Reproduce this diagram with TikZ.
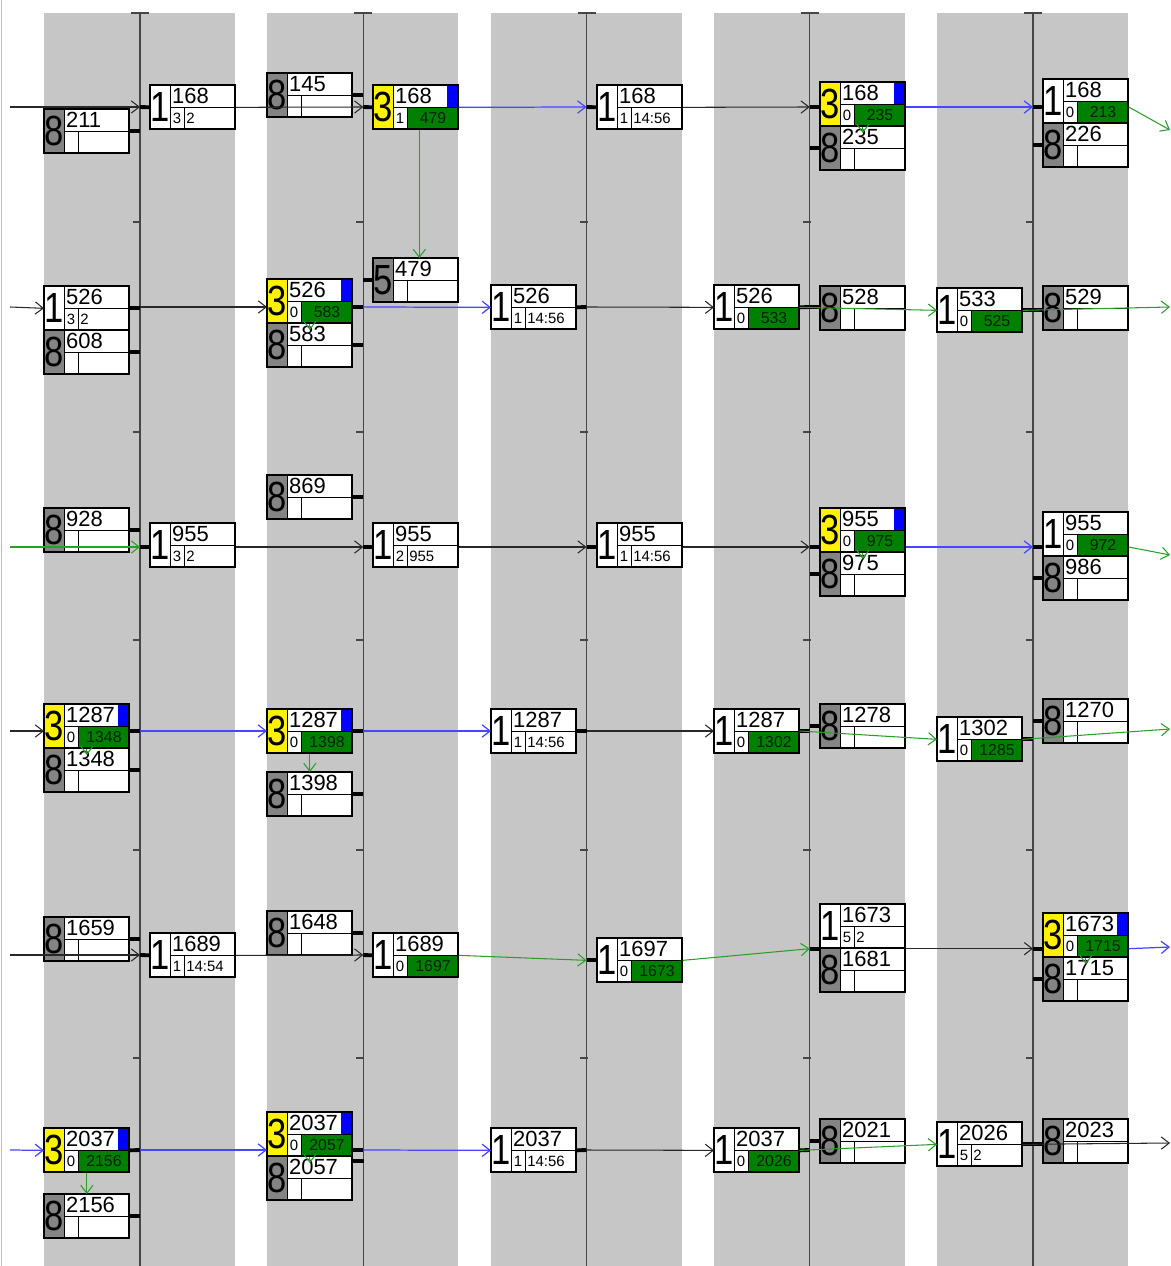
\documentclass[tikz,border=0pt]{standalone}
\usepackage{fontspec}
\setmainfont{Liberation Sans}
\usepackage{graphicx}
\usetikzlibrary{arrows.meta}

\definecolor{bandgray}{RGB}{198,198,198}
\definecolor{cellgray}{RGB}{132,132,132}
\definecolor{boxgreen}{RGB}{0,128,0}
\definecolor{boxblue}{RGB}{0,0,255}
\definecolor{linegreen}{RGB}{40,160,40}
\definecolor{lineblue}{RGB}{70,70,255}
\definecolor{linedark}{RGB}{40,40,40}
\definecolor{railgray}{RGB}{70,70,70}

\tikzset{
  frame/.style={fill=white, minimum width=1.7cm, minimum height=0.88cm, inner sep=0pt, anchor=north west},
  rim/.style={line width=0.7pt},
  inner/.style={line width=0.45pt},
  digit/.style={inner sep=0pt, font=\fontsize{24}{24}\selectfont},
  numtext/.style={inner sep=1pt, anchor=west, font=\fontsize{12.5}{12.5}\selectfont},
  smalltext/.style={inner sep=0pt, font=\fontsize{8.5}{8.5}\selectfont},
  gtext/.style={inner sep=0pt, font=\fontsize{9}{9}\selectfont, text=black!75!boxgreen},
  trk/.style={->, draw=linedark, line width=0.6pt},
  blu/.style={->, draw=lineblue, line width=0.7pt},
  grn/.style={->, draw=linegreen, line width=0.6pt},
  stub/.style={line width=2.2pt},
  rail/.style={draw=railgray, line width=0.8pt},
}

\newcommand\bigd[1]{\scalebox{0.82}[1]{#1}}

% white box: 1 | number / small | rest
\newcommand\onebox[6]{%
  \begin{scope}[shift={(#2,#3)}]
    \node[frame] (#1) at (0,0) {};
    \draw[inner] (20,0) -- (20,44) (20,22) -- (85,22) (34,22) -- (34,44);
    \node[digit] (#1d) at (10,22) {\bigd{1}};
    \node[numtext] (#1n) at (20,11) {#4};
    \node[smalltext] (#1s) at (27,33) {#5};
    \node[smalltext,anchor=west] (#1r) at (36,33) {#6};
    \draw[rim] (0,0) rectangle (85,44);
  \end{scope}}

% white box with green field
\newcommand\greenbox[6]{%
  \begin{scope}[shift={(#2,#3)}]
    \node[frame] (#1) at (0,0) {};
    \fill[boxgreen] (34,22) rectangle (85,44);
    \draw[inner] (20,0) -- (20,44) (20,22) -- (85,22) (34,22) -- (34,44);
    \node[digit] (#1d) at (10,22) {\bigd{1}};
    \node[numtext] (#1n) at (20,11) {#4};
    \node[smalltext] (#1s) at (27,33) {#5};
    \node[gtext] (#1g) at (60,33) {#6};
    \draw[rim] (0,0) rectangle (85,44);
  \end{scope}}

% yellow 3 box
\newcommand\threebox[6]{%
  \begin{scope}[shift={(#2,#3)}]
    \node[frame] (#1) at (0,0) {};
    \fill[yellow] (0,0) rectangle (20,44);
    \fill[boxblue] (74,0) rectangle (85,22);
    \fill[boxgreen] (34,22) rectangle (85,44);
    \draw[inner] (20,0) -- (20,44) (20,22) -- (85,22) (34,22) -- (34,44);
    \node[digit] (#1d) at (10,22) {\bigd{3}};
    \node[numtext] (#1n) at (20,11) {#4};
    \node[smalltext] (#1s) at (27,33) {#5};
    \node[gtext] (#1g) at (60,33) {#6};
    \draw[rim] (0,0) rectangle (85,44);
  \end{scope}}

% gray 8 (or 5) box
\newcommand\graybox[5][8]{%
  \begin{scope}[shift={(#3,#4)}]
    \node[frame] (#2) at (0,0) {};
    \fill[cellgray] (0,0) rectangle (20,44);
    \draw[inner] (20,0) -- (20,44) (20,22) -- (85,22) (34,22) -- (34,44);
    \node[digit] (#2d) at (10,22) {\bigd{#1}};
    \node[numtext] (#2n) at (20,11) {#5};
    \draw[rim] (0,0) rectangle (85,44);
  \end{scope}}

\begin{document}
\begin{tikzpicture}[x=0.02cm, y=-0.02cm, >={Straight Barb[length=4.5pt,width=7pt]}]
 \useasboundingbox (0,0) rectangle (1170,1266);
 \fill[white] (0,0) rectangle (1170,1266);
 \draw[gray!50, line width=0.4pt] (1,0) -- (1,1266);

 % bands and rails
 \foreach \bx in {44,267.25,490.5,713.75,937}
   \fill[bandgray] (\bx,13) rectangle ++(191,1253);
 \foreach \lx [count=\k] in {140,363.25,586.5,809.75,1033} {
   \coordinate (l\k) at (\lx,13);
   \draw[rail] (\lx,13) -- (\lx,1266);
   \draw[rail] (\lx-9,13) -- (\lx+9,13);
   \foreach \ty in {222,432,640,850,1058}
     \draw[rail] (\lx-7,\ty) -- (\lx+1,\ty);
 }
 \foreach \ry [count=\k] in {107,307,547,731,955,1150} {
   \coordinate (r\k) at (0,\ry);
   \coordinate (in\k) at (10,\ry);
 }
 \coordinate (o1) at (1170,130);
 \coordinate (o2) at (1170,307);
 \coordinate (o3) at (1170,555);
 \coordinate (o4) at (1170,729);
 \coordinate (o5) at (1170,947);
 \coordinate (o6) at (1170,1143);

 % row 1
 \graybox{e211}{44}{109}{211}
 \onebox{a168}{150}{85}{168}{3}{2}
 \graybox{e145}{267}{73}{145}
 \threebox{c168}{373}{85}{168}{1}{479}
 \onebox{a168b}{597}{85}{168}{1}{14:56}
 \threebox{c168b}{820}{82}{168}{0}{235}
 \graybox{e235}{820}{126}{235}
 \greenbox{g168}{1043}{79}{168}{0}{213}
 \graybox{e226}{1043}{123}{226}
 % row 2
 \onebox{b526}{44}{286}{526}{3}{2}
 \graybox{e608}{44}{330}{608}
 \threebox{c526}{267}{279}{526}{0}{583}
 \graybox{e583}{267}{323}{583}
 \graybox[5]{f479}{373}{258}{479}
 \onebox{a526}{491}{285}{526}{1}{14:56}
 \greenbox{g526}{714}{285}{526}{0}{533}
 \graybox{e528}{820}{286}{528}
 \greenbox{g533}{937}{288}{533}{0}{525}
 \graybox{e529}{1043}{286}{529}
 % row 3
 \graybox{e928}{44}{508}{928}
 \onebox{a955}{150}{523}{955}{3}{2}
 \graybox{e869}{267}{475}{869}
 \onebox{a955b}{373}{523}{955}{2}{955}
 \onebox{a955c}{597}{523}{955}{1}{14:56}
 \threebox{c955}{820}{508}{955}{0}{975}
 \graybox{e975}{820}{552}{975}
 \greenbox{g955}{1043}{512}{955}{0}{972}
 \graybox{e986}{1043}{556}{986}
 % row 4
 \threebox{c1287}{44}{704}{1287}{0}{1348}
 \graybox{e1348}{44}{748}{1348}
 \threebox{c1287b}{267}{709}{1287}{0}{1398}
 \graybox{e1398}{267}{772}{1398}
 \onebox{a1287}{491}{709}{1287}{1}{14:56}
 \greenbox{g1287}{714}{709}{1287}{0}{1302}
 \graybox{e1278}{820}{704}{1278}
 \greenbox{g1302}{937}{717}{1302}{0}{1285}
 \graybox{e1270}{1043}{699}{1270}
 % row 5
 \graybox{e1659}{44}{917}{1659}
 \onebox{a1689}{150}{933}{1689}{1}{14:54}
 \graybox{e1648}{267}{911}{1648}
 \greenbox{g1689}{373}{933}{1689}{0}{1697}
 \greenbox{g1697}{597}{938}{1697}{0}{1673}
 \onebox{a1673}{820}{904}{1673}{5}{2}
 \graybox{e1681}{820}{948}{1681}
 \threebox{c1673}{1043}{913}{1673}{0}{1715}
 \graybox{e1715}{1043}{957}{1715}
 % row 6
 \threebox{c2037}{44}{1128}{2037}{0}{2156}
 \graybox{e2156}{44}{1194}{2156}
 \threebox{c2037b}{267}{1112}{2037}{0}{2057}
 \graybox{e2057}{267}{1156}{2057}
 \onebox{a2037}{491}{1128}{2037}{1}{14:56}
 \greenbox{g2037}{714}{1128}{2037}{0}{2026}
 \graybox{e2021}{820}{1119}{2021}
 \onebox{a2026}{937}{1122}{2026}{5}{2}
 \graybox{e2023}{1043}{1119}{2023}

 % connectors row 1
 \draw[trk] (in1) -- (l1 |- r1);
 \draw[stub] (l1 |- r1) -- (a168.west);
 \draw[stub] (e211.east) -- (l1 |- e211.east);
 \draw[trk] (a168.east) -- (l2 |- r1);
 \draw[stub] (e145.east) -- (l2 |- e145.east);
 \draw[stub] (l2 |- r1) -- (c168.west);
 \draw[blu] (c168.east) -- (l3 |- r1);
 \draw[stub] (l3 |- r1) -- (a168b.west);
 \draw[grn] ([xshift=0.07cm]c168.south) -- ([xshift=0.07cm]f479.north);
 \draw[trk] (a168b.east) -- (l4 |- r1);
 \draw[stub] (l4 |- r1) -- (c168b.west |- r1);
 \draw[stub] (l4 |- e235.west) -- (e235.west);
 \draw[grn] (c168b.south) -- ([yshift=-0.14cm]e235.north);
 \draw[blu] (c168b.east |- r1) -- (l5 |- r1);
 \draw[stub] (l5 |- r1) -- (g168.west |- r1);
 \draw[stub] (l5 |- e226.west) -- (e226.west);
 \draw[grn] (g168.east |- r1) -- (o1);
 % row 2
 \draw[trk] (in2) -- (b526.west);
 \draw[stub] (b526.east) -- (l1 |- b526.east);
 \draw[stub] (e608.east) -- (l1 |- e608.east);
 \draw[trk] (l1 |- r2) -- (c526.west |- r2);
 \draw[stub] (c526.east |- r2) -- (l2 |- r2);
 \draw[stub] (e583.east) -- (l2 |- e583.east);
 \draw[grn] (c526.south) -- ([yshift=-0.14cm]e583.north);
 \draw[stub] (l2 |- f479.west) -- (f479.west);
 \draw[blu] (l2 |- r2) -- (a526.west);
 \draw[stub] (a526.east) -- (l3 |- r2);
 \draw[trk] (l3 |- r2) -- (g526.west);
 \draw[stub] (g526.east) -- (l4 |- r2);
 \draw[stub] (l4 |- r2) -- (e528.west |- r2);
 \draw[grn] (g526.east) -- (g533.west);
 \draw[stub] (g533.east) -- (l5 |- g533.east);
 \draw[stub] (l5 |- g533.east) -- (e529.west |- g533.east);
 \draw[grn] (g533.east) -- (o2);
 % row 3
 \draw[grn] (in3) -- (l1 |- r3);
 \draw[stub] (l1 |- r3) -- (a955.west |- r3);
 \draw[stub] (e928.east) -- (l1 |- e928.east);
 \draw[trk] (a955.east |- r3) -- (l2 |- r3);
 \draw[stub] (e869.east) -- (l2 |- e869.east);
 \draw[stub] (l2 |- r3) -- (a955b.west |- r3);
 \draw[trk] (a955b.east |- r3) -- (l3 |- r3);
 \draw[stub] (l3 |- r3) -- (a955c.west |- r3);
 \draw[trk] (a955c.east |- r3) -- (l4 |- r3);
 \draw[stub] (l4 |- r3) -- (c955.west |- r3);
 \draw[stub] (l4 |- e975.west) -- (e975.west);
 \draw[grn] (c955.south) -- ([yshift=-0.14cm]e975.north);
 \draw[blu] (c955.east |- r3) -- (l5 |- r3);
 \draw[stub] (l5 |- r3) -- (g955.west |- r3);
 \draw[stub] (l5 |- e986.west) -- (e986.west);
 \draw[grn] (g955.east |- r3) -- (o3);
 % row 4
 \draw[trk] (in4) -- (c1287.west |- r4);
 \draw[stub] (c1287.east |- r4) -- (l1 |- r4);
 \draw[stub] (e1348.east) -- (l1 |- e1348.east);
 \draw[grn] (c1287.south) -- ([yshift=-0.14cm]e1348.north);
 \draw[blu] (l1 |- r4) -- (c1287b.west |- r4);
 \draw[stub] (c1287b.east |- r4) -- (l2 |- r4);
 \draw[grn] (c1287b.south) -- (e1398.north);
 \draw[stub] (e1398.east) -- (l2 |- e1398.east);
 \draw[blu] (l2 |- r4) -- (a1287.west |- r4);
 \draw[stub] (a1287.east |- r4) -- (l3 |- r4);
 \draw[trk] (l3 |- r4) -- (g1287.west |- r4);
 \draw[stub] (g1287.east |- r4) -- (l4 |- r4);
 \draw[stub] (l4 |- e1278.west) -- (e1278.west);
 \draw[grn] (g1287.east |- r4) -- (g1302.west);
 \draw[stub] (g1302.east) -- (l5 |- g1302.east);
 \draw[stub] (l5 |- e1270.west) -- (e1270.west);
 \draw[grn] (g1302.east) -- (o4);
 % row 5
 \draw[trk] (in5) -- (l1 |- r5);
 \draw[stub] (l1 |- r5) -- (a1689.west);
 \draw[stub] (e1659.east) -- (l1 |- e1659.east);
 \draw[trk] (a1689.east) -- (l2 |- r5);
 \draw[stub] (e1648.east) -- (l2 |- e1648.east);
 \draw[stub] (l2 |- r5) -- (g1689.west);
 \draw[grn] (g1689.east) -- (l3 |- g1697.west);
 \draw[stub] (l3 |- g1697.west) -- (g1697.west);
 \draw[grn] (g1697.east) -- (l4 |- a1673.south);
 \draw[stub] (l4 |- a1673.south) -- (a1673.south west);
 \draw[trk] (a1673.south east) -- (l5 |- a1673.south);
 \draw[stub] (l5 |- a1673.south) -- (c1673.west |- a1673.south);
 \draw[stub] (l5 |- e1715.west) -- (e1715.west);
 \draw[grn] (c1673.south) -- ([yshift=-0.14cm]e1715.north);
 \draw[blu] (c1673.east |- a1673.south) -- (o5);
 % row 6
 \draw[blu] (in6) -- (c2037.west);
 \draw[stub] (c2037.east) -- (l1 |- r6);
 \draw[grn] (c2037.south) -- (e2156.north);
 \draw[stub] (e2156.east) -- (l1 |- e2156.east);
 \draw[blu] (l1 |- r6) -- (c2037b.west |- r6);
 \draw[stub] (c2037b.east |- r6) -- (l2 |- r6);
 \draw[stub] ([yshift=-0.1cm]e2057.north east) -- ++(11,0);
 \draw[grn] (c2037b.south) -- ([yshift=-0.14cm]e2057.north);
 \draw[blu] (l2 |- r6) -- (a2037.west);
 \draw[stub] (a2037.east) -- (l3 |- r6);
 \draw[trk] (l3 |- r6) -- (g2037.west);
 \draw[stub] (g2037.east) -- (l4 |- r6);
 \draw[stub] (l4 |- e2021.west) -- (e2021.west);
 \draw[grn] (g2037.east) -- (a2026.west);
 \draw[stub] (a2026.east) -- (l5 |- a2026.east);
 \draw[stub] (l5 |- a2026.east) -- (e2023.west |- a2026.east);
 \draw[trk] (a2026.east) -- (o6);
\end{tikzpicture}
\end{document}
